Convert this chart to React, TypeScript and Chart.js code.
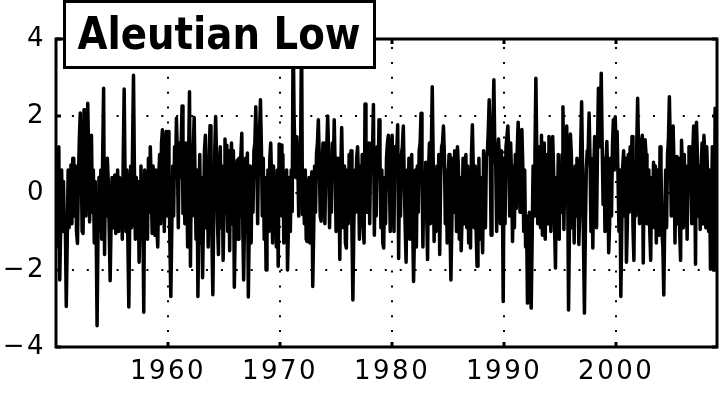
import React, { useEffect, useRef } from "react";
import { Chart, registerables } from "chart.js";

Chart.register(...registerables);

// Monthly Aleutian Low index, Jan 1950 – Dec 2008
const START_YEAR = 1950;
const MONTHS_PER_YEAR = 12;

const vals1950s = [
  0.7, -1.4, 0.4, 1.2, -2.26, -0.9, 0.6, -1.0, 0.3, -1.0, -0.8, -2.95,
  -1.3, 0.6, -0.9, 0.4, 0.73, -0.8, 0.9, 0.9, -0.6, 0.7, -1.0, -1.31,
  0.4, 1.4, 2.08, 0.9, -1.0, -1.05, 2.16, 1.2, -0.6, 1.1, 2.33, 1.0,
  -0.75, 0.7, 1.5, -0.5, 0.6, -1.3, 0.3, -0.9, -3.45, -1.0, 0.4, -0.8,
  0.6, -1.2, 1.0, 2.72, -1.6, 0.7, -0.6, 0.9, 0.3, -1.0, -2.28, -0.8,
  0.4, -0.9, 0.3, 0.47, -1.05, -0.5, 0.6, -1.0, 0.4, -0.8, 0.3, -1.2,
  0.9, 2.7, 0.4, -1.0, 0.6, -1.3, -2.96, -0.6, 0.7, -0.9, 1.2, 3.06,
  0.6, -1.2, 0.4, -0.8, 0.3, -1.8, -0.6, 0.7, -1.0, -0.5, -3.1, 0.6,
  -0.8, 0.4, -1.2, 0.9, -0.5, 1.2, 0.3, -1.05, 0.7, -0.6, -1.1, 0.6,
  -0.9, -1.4, 0.4, 1.0, -0.8, 1.3, 1.64, 0.6, -1.0, 0.4, 1.6, -0.6,
];

const vals1960s = [
  1.6, 0.6, -1.3, -2.69, -1.0, 0.7, -0.6, 1.2, 0.4, 1.94, 1.0, -0.9,
  1.3, 0.4, 1.2, 2.26, -0.53, 1.1, -0.8, 1.3, 0.6, -1.4, 0.9, 2.63,
  -1.9, 0.7, -0.6, 1.2, 1.96, 0.4, -1.2, 0.6, -2.69, -0.8, 1.0, -1.3,
  0.4, -2.2, -0.6, 1.1, 1.5, -0.9, 0.7, -1.4, 1.0, 1.75, 0.4, -1.2,
  -2.64, -0.5, 1.1, 1.99, 0.9, -0.8, -1.6, 0.6, 1.2, -0.9, 0.7, -1.75,
  -0.5, 1.4, 0.6, 1.24, -1.0, 1.1, -1.5, 0.7, 1.3, -0.8, 1.1, -2.45,
  -0.9, 0.4, 0.85, -1.2, 0.9, -0.6, 1.0, 1.55, -0.8, -2.26, -0.6, 0.9,
  -1.0, 1.04, -2.7, -0.9, 0.7, -1.3, 0.6, -0.5, 1.1, 1.3, 2.24, 1.0,
  -0.8, 1.3, 1.6, 2.42, 1.2, -0.6, 0.9, -1.2, 0.4, -2.0, -0.8, 0.6,
  -1.0, 0.9, 1.3, 0.3, -1.3, 0.7, -0.9, 0.4, -1.4, 0.6, -1.9, 1.27,
];

const vals1970s = [
  0.7, 1.25, -0.6, 1.0, -1.3, 0.4, -0.9, 0.6, -2.0, -0.8, 0.4, -1.0,
  0.6, -0.48, 4.4, 2.0, 1.0, 0.4, 1.46, 0.7, -0.6, 0.9, 1.2, 4.3,
  -0.56, 0.4, -0.8, 0.6, -1.2, -1.26, -0.6, 0.4, -1.3, -0.5, 0.55, -2.43,
  -1.0, 0.7, -0.5, 1.0, 1.3, 1.9, 0.9, -0.6, -0.73, 0.7, 1.3, 1.0,
  -0.8, 0.6, 1.2, 2.0, 1.1, -0.9, 0.7, -0.5, 1.3, 0.6, 1.9, 0.7,
  -1.0, 0.9, -0.6, 0.4, -1.73, 0.6, 1.7, 0.4, -0.9, 0.7, -1.3, -1.43,
  0.6, -0.8, 1.0, 0.4, 1.1, -1.0, -2.78, -0.9, 0.6, -0.5, 0.9, 1.2,
  0.4, -1.2, 0.7, -0.6, 1.0, -0.9, -1.3, 2.31, 1.2, -0.5, 0.9, 1.3,
  -0.8, 1.0, 1.3, 1.1, 2.3, -1.1, 0.7, -0.6, 1.2, 0.4, 1.9, 1.0,
  -0.9, 0.6, -1.3, -1.43, 0.4, -0.8, 0.9, 1.3, 1.5, 0.6, -1.0, 0.7,
];

const vals1980s = [
  1.5, 0.4, -1.0, 1.2, 0.6, 1.1, 1.77, -1.7, 0.7, -0.6, 1.0, 1.2,
  1.74, 0.4, -0.9, -1.8, 0.6, -0.8, 0.9, -1.2, 0.4, 1.0, -0.8, -2.3,
  -1.0, 0.6, -1.4, 0.7, -0.5, 1.1, 1.3, 2.07, 0.7, -1.4, 0.4, -0.6,
  0.8, -0.5, -1.73, 0.6, 1.3, -0.8, 1.1, 2.76, 0.9, -1.26, 0.6, -1.0,
  0.7, -0.6, 1.0, -1.6, 0.4, 1.2, 1.3, 1.74, 1.0, -0.8, 0.6, -1.3,
  0.4, 1.0, -0.9, -2.26, -0.8, 0.9, -0.5, 1.1, 0.6, -1.0, 1.2, 0.7,
  -1.2, 0.4, -1.5, -0.6, 0.9, -0.8, 0.6, 1.0, -0.9, 0.7, -1.3, 0.4,
  -1.43, 1.0, 1.77, 0.6, -0.9, 0.7, -1.0, -1.9, -0.6, 0.9, -1.2, 0.4,
  -0.8, -1.55, 1.1, 0.6, -0.9, 1.0, 1.0, 1.6, 2.42, 1.3, -1.1, 1.2,
  1.8, 2.94, 1.2, 0.7, -1.0, 1.0, 1.4, 0.9, -0.8, 1.1, 0.4, -2.82,
];

const vals1990s = [
  0.9, -0.8, 1.2, 1.2, 1.74, 1.0, -0.6, 1.3, 0.4, -1.26, 0.7, -0.9,
  1.0, -0.4, 1.1, 1.84, 1.1, -0.5, 1.3, 1.65, 0.7, -1.0, 0.6, -1.4,
  -0.6, -2.86, -2.3, -0.5, -2.6, -2.99, -1.2, 0.7, -0.6, 1.0, 2.98, 1.0,
  -0.8, 1.2, 0.4, -0.9, 1.5, -1.1, 0.6, 1.3, -1.2, 0.4, 1.0, -0.8,
  1.47, 0.9, -1.0, 0.7, 1.47, 0.6, -0.9, -1.95, 0.4, -0.6, 1.0, -1.2,
  0.6, -0.5, 1.0, 2.24, -0.95, 0.7, 1.0, 1.74, 0.4, -3.04, -0.8, 1.53,
  1.0, -0.9, 0.6, -1.3, 0.7, -0.6, 0.9, 0.4, -1.34, -0.5, 1.2, 2.37,
  0.7, -1.3, -3.12, -1.0, 0.6, 1.1, 1.1, 2.08, 0.9, -1.0, 0.4, -1.43,
  0.6, 1.47, 0.7, -0.9, 1.2, 2.72, 1.2, 1.5, 3.11, 1.3, -0.3, 0.9,
  -1.0, 0.7, 1.34, 0.4, -1.55, -0.8, 0.9, -0.6, 1.2, 1.9, 0.6, 1.98,
];

const vals2000s = [
  1.0, 1.6, 0.4, -1.0, 0.6, -2.69, -0.9, 0.7, 1.1, -0.6, 0.9, -1.8,
  -0.8, 1.0, -0.5, 1.2, 0.6, 1.47, -0.9, -1.75, 0.7, -0.6, 1.2, 2.46,
  1.1, -0.8, 0.9, 1.3, 1.5, -1.82, 0.6, 1.38, 1.0, -0.8, 0.4, 0.6,
  -1.0, -1.75, 0.4, -0.6, 0.8, -0.9, 0.7, -1.3, 0.6, -0.5, -1.1, 1.2,
  0.7, -1.0, -1.4, -2.65, -0.8, 0.6, -0.9, 1.0, 1.4, 2.5, 1.2, -0.6,
  0.9, 1.74, 0.7, -1.3, 0.4, 0.95, -0.8, 0.9, -1.0, -1.75, 1.37, 0.6,
  -0.9, 1.0, -0.5, 0.7, -1.2, 0.6, 1.2, 1.2, 0.7, -0.8, 1.0, 1.74,
  0.9, -1.85, 1.84, 1.0, -0.6, 0.7, -0.95, 0.6, 1.3, -0.8, 1.5, 1.0,
  -0.9, 1.2, 0.4, -1.0, 0.6, -1.98, -0.8, 1.2, -1.98, -2.0, 2.2, 0.4,
];

const xTicks = [1960, 1970, 1980, 1990, 2000];
const yTicks = [-4, -2, 0, 2, 4];
const X_MIN = 1950;
const X_MAX = 2009;
const Y_MIN = -4;
const Y_MAX = 4;
const titleText = "Aleutian Low";

export default function App() {
  const ref = useRef<HTMLCanvasElement>(null);

  useEffect(() => {
    const canvas = ref.current;
    if (!canvas) return;
    const all = [
      ...vals1950s,
      ...vals1960s,
      ...vals1970s,
      ...vals1980s,
      ...vals1990s,
      ...vals2000s,
    ];
    const points = all.map((v, i) => ({ x: START_YEAR + i / MONTHS_PER_YEAR, y: v }));

    const tickFont = { family: "'DejaVu Sans'", size: 26 };

    const framePlugin = {
      id: "frameAndGrid",
      beforeDraw(chart: any) {
        chart.ctx.letterSpacing = "2.5px";
      },
      beforeDatasetsDraw(chart: any) {
        const { ctx, chartArea: a, scales } = chart;
        ctx.save();
        ctx.strokeStyle = "#000";
        ctx.lineWidth = 2;
        ctx.lineCap = "butt";
        ctx.setLineDash([2, 12.9]);
        for (const t of xTicks) {
          const px = Math.round(scales.x.getPixelForValue(t));
          ctx.beginPath();
          ctx.moveTo(px, a.bottom);
          ctx.lineTo(px, a.top);
          ctx.stroke();
        }
        for (const t of yTicks) {
          if (t <= Y_MIN || t >= Y_MAX) continue;
          const py = Math.round(scales.y.getPixelForValue(t));
          ctx.beginPath();
          ctx.moveTo(a.left + 1, py);
          ctx.lineTo(a.right, py);
          ctx.stroke();
        }
        ctx.restore();
      },
      afterDatasetsDraw(chart: any) {
        const { ctx, chartArea: a, scales } = chart;
        ctx.save();
        ctx.setLineDash([]);
        ctx.strokeStyle = "#000";
        ctx.lineWidth = 3;
        const tl = 5;
        for (const t of xTicks) {
          const px = Math.round(scales.x.getPixelForValue(t));
          ctx.beginPath();
          ctx.moveTo(px, a.bottom);
          ctx.lineTo(px, a.bottom - tl);
          ctx.moveTo(px, a.top);
          ctx.lineTo(px, a.top + tl);
          ctx.stroke();
        }
        for (const t of yTicks) {
          const py = Math.round(scales.y.getPixelForValue(t));
          ctx.beginPath();
          ctx.moveTo(a.left, py);
          ctx.lineTo(a.left + tl, py);
          ctx.moveTo(a.right, py);
          ctx.lineTo(a.right - tl, py);
          ctx.stroke();
        }
        ctx.lineJoin = "miter";
        ctx.strokeRect(a.left, a.top, a.right - a.left, a.bottom - a.top);
        ctx.restore();
      },
      afterDraw(chart: any) {
        const ctx = chart.ctx;
        ctx.save();
        ctx.letterSpacing = "0px";
        ctx.setLineDash([]);
        ctx.fillStyle = "#fff";
        ctx.fillRect(63, 0, 313, 69);
        ctx.strokeStyle = "#000";
        ctx.lineWidth = 3;
        ctx.strokeRect(64.5, 1.5, 310, 66);
        ctx.font = "bold 44px 'DejaVu Sans'";
        const w = ctx.measureText(titleText).width;
        const sx = 283 / w;
        ctx.translate(219, 49);
        ctx.scale(sx, 1);
        ctx.fillStyle = "#000";
        ctx.textAlign = "center";
        ctx.textBaseline = "alphabetic";
        ctx.fillText(titleText, 0, 0);
        ctx.restore();
        ctx.letterSpacing = "0px";
      },
    };

    const chart = new Chart(canvas, {
      type: "line",
      data: {
        datasets: [
          {
            data: points,
            borderColor: "#000",
            borderWidth: 3.5,
            pointRadius: 0,
            fill: false,
            tension: 0,
            borderJoinStyle: "round",
            borderCapStyle: "round",
          },
        ],
      },
      options: {
        animation: false,
        responsive: false,
        devicePixelRatio: 1,
        layout: { padding: { left: 0, right: 10, top: 39, bottom: 0 } },
        plugins: {
          legend: { display: false },
          tooltip: { enabled: false },
          title: { display: false },
        },
        scales: {
          x: {
            type: "linear",
            min: X_MIN,
            max: X_MAX,
            afterBuildTicks: (s: any) => {
              s.ticks = xTicks.map((v) => ({ value: v }));
            },
            afterFit: (s: any) => {
              s.height = 46;
            },
            grid: { display: false, drawTicks: false },
            border: { display: false },
            ticks: {
              color: "#000",
              font: tickFont,
              padding: 10,
              maxRotation: 0,
              autoSkip: false,
              callback: (v: any) => String(v),
            },
          },
          y: {
            type: "linear",
            min: Y_MIN,
            max: Y_MAX,
            afterBuildTicks: (s: any) => {
              s.ticks = yTicks.map((v) => ({ value: v }));
            },
            afterFit: (s: any) => {
              s.width = 56;
            },
            grid: { display: false, drawTicks: false },
            border: { display: false },
            ticks: {
              color: "#000",
              font: tickFont,
              padding: 10,
              autoSkip: false,
              callback: (v: any) => String(v).replace("-", "\u2212"),
            },
          },
        },
      },
      plugins: [framePlugin],
    } as any);

    return () => chart.destroy();
  }, []);

  return (
    <div style={{ position: "fixed", left: 0, top: 0, width: 727, height: 393, background: "#fff" }}>
      <canvas ref={ref} width={727} height={393} style={{ display: "block", width: 727, height: 393 }} />
    </div>
  );
}
